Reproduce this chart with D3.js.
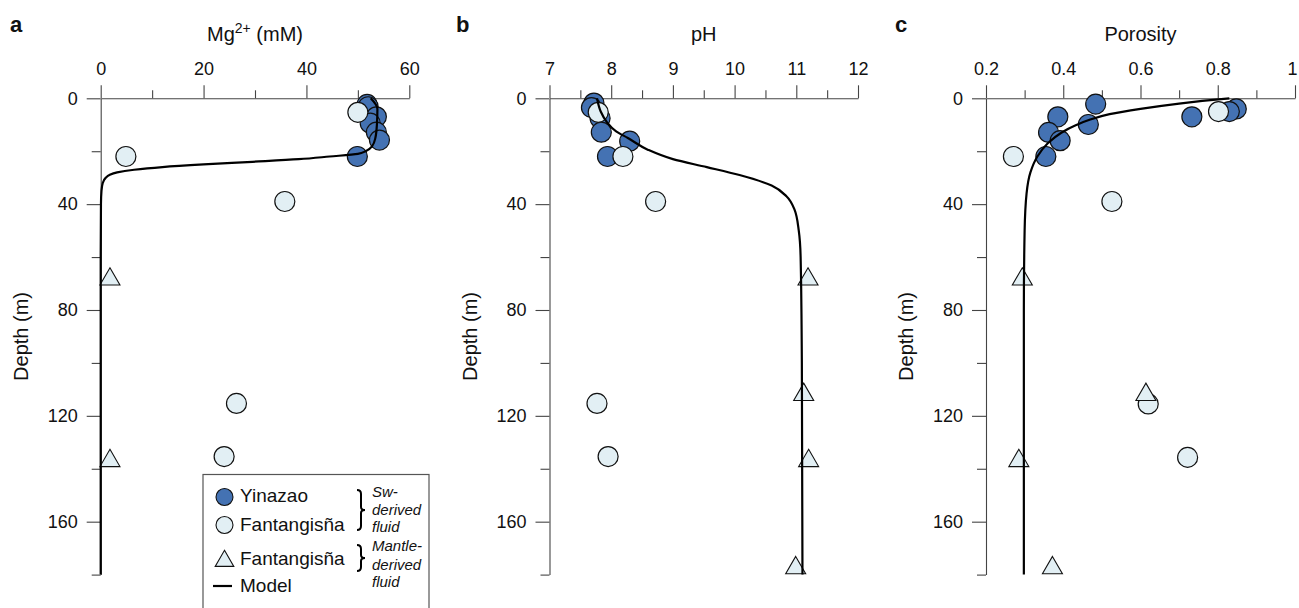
<!DOCTYPE html>
<html><head><meta charset="utf-8">
<script src="https://cdn.jsdelivr.net/npm/d3@7"></script>
<style>
body{margin:0;background:#fff;}
svg text{font-family:"Liberation Sans",Arial,Helvetica,sans-serif;fill:#111;}
</style></head>
<body><svg id="chart" width="1299" height="608"></svg>
<script>
// ---------- data ----------
// Panel a: Mg2+ (mM)
const yinMgDepth = [2.3, 3.2, 7, 9.4, 12.8, 15.8, 22];
const yinMg      = [51.8, 52.0, 53.6, 52.4, 53.6, 54.2, 49.9];
const fanMgDepth = [5.3, 22, 39, 115.3, 135.4];
const fanMg      = [50.0, 4.9, 35.8, 26.4, 24.0];
const manMgDepth = [68.4, 137];
const manMg      = [1.8, 1.8];
const modelMgDepth = [0, 4, 10, 15, 18, 20, 21, 22, 23, 24, 25, 26, 27, 28, 29, 30, 32, 35, 40, 60, 180];
const modelMg      = [52.5, 53.8, 53.7, 53.4, 52.8, 51.5, 50, 44.5, 38.5, 29.5, 20, 12, 6.5, 3.2, 1.7, 1.0, 0.4, 0.15, 0.05, 0, 0];

// Panel b: pH
const yinPhDepth = [1.8, 3.5, 7.5, 12.8, 16.2, 22];
const yinPh      = [7.72, 7.68, 7.82, 7.84, 8.30, 7.94];
const fanPhDepth = [5.3, 22, 39, 115.3, 135.4];
const fanPh      = [7.79, 8.19, 8.72, 7.77, 7.95];
const manPhDepth = [68.4, 112, 137, 177.5];
const manPh      = [11.19, 11.12, 11.20, 10.99];
const modelPhDepth = [0, 5, 9, 12.5, 15, 19.5, 23, 26, 29, 33, 37, 42, 50, 60, 100, 180];
const modelPh      = [7.77, 7.83, 7.93, 8.08, 8.27, 8.6, 9.0, 9.55, 10.08, 10.6, 10.84, 10.97, 11.04, 11.07, 11.09, 11.1];

// Panel c: Porosity
const yinPorDepth = [2.2, 4.0, 5.0, 7, 7, 9.9, 12.9, 16, 22];
const yinPor      = [0.484, 0.848, 0.83, 0.733, 0.386, 0.465, 0.362, 0.392, 0.355];
const fanPorDepth = [5, 22, 39, 115.5, 135.7];
const fanPor      = [0.802, 0.271, 0.526, 0.62, 0.722];
const manPorDepth = [68.4, 112, 137, 177.5];
const manPor      = [0.294, 0.614, 0.285, 0.372];
const modelPorDepth = [0, 1, 2, 4, 6, 8, 10, 13, 17, 22, 28, 36, 50, 80, 180];
const modelPor      = [0.83, 0.76, 0.70, 0.60, 0.52, 0.47, 0.435, 0.395, 0.36, 0.333, 0.315, 0.305, 0.30, 0.298, 0.298];

// ticks
const depthMajor = [0, 40, 80, 120, 160];
const depthMinor = [20, 60, 100, 140, 180];
const mgMajor = [0, 20, 40, 60], mgMinor = [10, 30, 50];
const phMajor = [7, 8, 9, 10, 11, 12], phMinor = [7.5, 8.5, 9.5, 10.5, 11.5];
const porMajor = [0.2, 0.4, 0.6, 0.8, 1.0], porMinor = [0.3, 0.5, 0.7, 0.9];
const porLabels = ["0.2", "0.4", "0.6", "0.8", "1"];

// ---------- drawing ----------
const svg = d3.select("#chart");
const DARK = "#4472b3", LIGHT = "#e2eff4", AX = "#444";
const yTop = 98.3, yBot = 574.6;

const zip = (ds, vs) => ds.map((d, i) => ({d: d, v: vs[i]}));

function panel(cfg) {
  const x = d3.scaleLinear().domain(cfg.xdom).range(cfg.xrange);
  const y = d3.scaleLinear().domain([0, 180]).range([yTop, yBot]);
  const g = svg.append("g");

  // minor x ticks
  g.append("g").attr("transform", `translate(0,${yTop})`)
    .call(d3.axisTop(x).tickValues(cfg.xMinor).tickSize(8).tickFormat(""))
    .call(a => a.select(".domain").remove());
  // major x ticks
  const xa = g.append("g").attr("transform", `translate(0,${yTop})`)
    .call(d3.axisTop(x).tickValues(cfg.xMajor).tickSize(13).tickSizeOuter(0).tickPadding(10)
      .tickFormat((d, i) => cfg.xLabels ? cfg.xLabels[i] : d3.format("d")(d)));
  xa.selectAll("text").attr("font-size", 18).style("font-family", "Liberation Sans, Arial, sans-serif").attr("fill", "#111");
  if (cfg.lastShift) xa.selectAll("text").filter((d, i, n) => i === n.length - 1).attr("dx", cfg.lastShift);
  // minor y ticks
  g.append("g").attr("transform", `translate(${cfg.xrange[0]},0)`)
    .call(d3.axisLeft(y).tickValues(depthMinor).tickSize(9).tickFormat(""))
    .call(a => a.select(".domain").remove());
  // major y ticks
  g.append("g").attr("transform", `translate(${cfg.xrange[0]},0)`)
    .call(d3.axisLeft(y).tickValues(depthMajor).tickSize(14).tickSizeOuter(0).tickPadding(9))
    .call(a => a.selectAll("text").attr("font-size", 18).style("font-family", "Liberation Sans, Arial, sans-serif").attr("fill", "#111"));
  g.selectAll(".domain, .tick line").attr("stroke", AX).attr("stroke-width", 1.1);

  // points
  g.append("g").selectAll("circle").data(zip(cfg.yinD, cfg.yinV)).join("circle")
    .attr("cx", p => x(p.v)).attr("cy", p => y(p.d)).attr("r", 10)
    .attr("fill", DARK).attr("stroke", "#111").attr("stroke-width", 1.2);
  g.append("g").selectAll("circle").data(zip(cfg.fanD, cfg.fanV)).join("circle")
    .attr("cx", p => x(p.v)).attr("cy", p => y(p.d)).attr("r", 10)
    .attr("fill", LIGHT).attr("stroke", "#111").attr("stroke-width", 1.2);
  const tri = d3.symbol().type(d3.symbolTriangle).size(173);
  g.append("g").selectAll("path").data(zip(cfg.manD, cfg.manV)).join("path")
    .attr("d", tri).attr("transform", p => `translate(${x(p.v)},${y(p.d)})`)
    .attr("fill", LIGHT).attr("stroke", "#111").attr("stroke-width", 1.1);

  // model
  const line = d3.line().x(p => x(p.v)).y(p => y(p.d)).curve(d3.curveMonotoneY);
  g.append("path").datum(zip(cfg.modD, cfg.modV)).attr("d", line)
    .attr("fill", "none").attr("stroke", "#000").attr("stroke-width", 2.2);

  // titles
  const t = g.append("text").attr("x", (cfg.xrange[0] + cfg.xrange[1]) / 2).attr("y", 41)
    .attr("text-anchor", "middle").attr("font-size", 20);
  cfg.title(t);
  g.append("text").attr("transform", `translate(${cfg.xrange[0] - 73},${(yTop + yBot) / 2}) rotate(-90)`)
    .attr("text-anchor", "middle").attr("font-size", 20).text("Depth (m)");
  g.append("text").attr("x", cfg.labX).attr("y", 32).attr("font-size", 22).attr("font-weight", "bold").text(cfg.label);
}

panel({xdom: [0, 60], xrange: [100.7, 409.3], xMajor: mgMajor, xMinor: mgMinor,
  yinD: yinMgDepth, yinV: yinMg, fanD: fanMgDepth, fanV: fanMg, manD: manMgDepth, manV: manMg,
  modD: modelMgDepth, modV: modelMg, label: "a", labX: 10,
  title: t => { t.append("tspan").text("Mg"); t.append("tspan").attr("font-size", 14).attr("dy", -8).text("2+");
                t.append("tspan").attr("dy", 8).text(" (mM)"); }});
panel({xdom: [7, 12], xrange: [549.5, 858], xMajor: phMajor, xMinor: phMinor,
  yinD: yinPhDepth, yinV: yinPh, fanD: fanPhDepth, fanV: fanPh, manD: manPhDepth, manV: manPh,
  modD: modelPhDepth, modV: modelPh, label: "b", labX: 456,
  title: t => t.text("pH")});
panel({xdom: [0.2, 1.0], xrange: [986, 1295], xMajor: porMajor, xMinor: porMinor, xLabels: porLabels, lastShift: -3,
  yinD: yinPorDepth, yinV: yinPor, fanD: fanPorDepth, fanV: fanPor, manD: manPorDepth, manV: manPor,
  modD: modelPorDepth, modV: modelPor, label: "c", labX: 895,
  title: t => t.text("Porosity")});

// ---------- legend ----------
const lg = svg.append("g");
lg.append("rect").attr("x", 203).attr("y", 474.5).attr("width", 226).attr("height", 145)
  .attr("fill", "#fff").attr("stroke", "#555").attr("stroke-width", 1.2);
lg.append("circle").attr("cx", 224.5).attr("cy", 497).attr("r", 8.5).attr("fill", DARK).attr("stroke", "#111").attr("stroke-width", 1.1);
lg.append("circle").attr("cx", 224.5).attr("cy", 525).attr("r", 8.5).attr("fill", LIGHT).attr("stroke", "#111").attr("stroke-width", 1.1);
lg.append("path").attr("d", d3.symbol().type(d3.symbolTriangle).size(150))
  .attr("transform", "translate(224.5,561)").attr("fill", LIGHT).attr("stroke", "#111").attr("stroke-width", 1.1);
lg.append("line").attr("x1", 213).attr("x2", 232).attr("y1", 586).attr("y2", 586).attr("stroke", "#000").attr("stroke-width", 2.2);
const lt = [["Yinazao", 502], ["Fantangisña", 530.5], ["Fantangisña", 565], ["Model", 592]];
lt.forEach(d => lg.append("text").attr("x", 240).attr("y", d[1]).attr("font-size", 19).text(d[0]));
// braces
function brace(x, y0, y1) {
  const m = (y0 + y1) / 2;
  return `M${x - 4},${y0} Q${x},${y0} ${x},${y0 + 4} L${x},${m - 3} Q${x},${m} ${x + 4},${m} Q${x},${m} ${x},${m + 3} L${x},${y1 - 4} Q${x},${y1} ${x - 4},${y1}`;
}
lg.append("path").attr("d", brace(361, 490, 530)).attr("fill", "none").attr("stroke", "#000").attr("stroke-width", 2);
lg.append("path").attr("d", brace(361, 545, 571)).attr("fill", "none").attr("stroke", "#000").attr("stroke-width", 2);
const it = [["Sw-", 497], ["derived", 515], ["fluid", 532], ["Mantle-", 551], ["derived", 569.5], ["fluid", 587]];
it.forEach(d => lg.append("text").attr("x", 372).attr("y", d[1]).attr("font-size", 15).attr("font-style", "italic").text(d[0]));
</script></body></html>
